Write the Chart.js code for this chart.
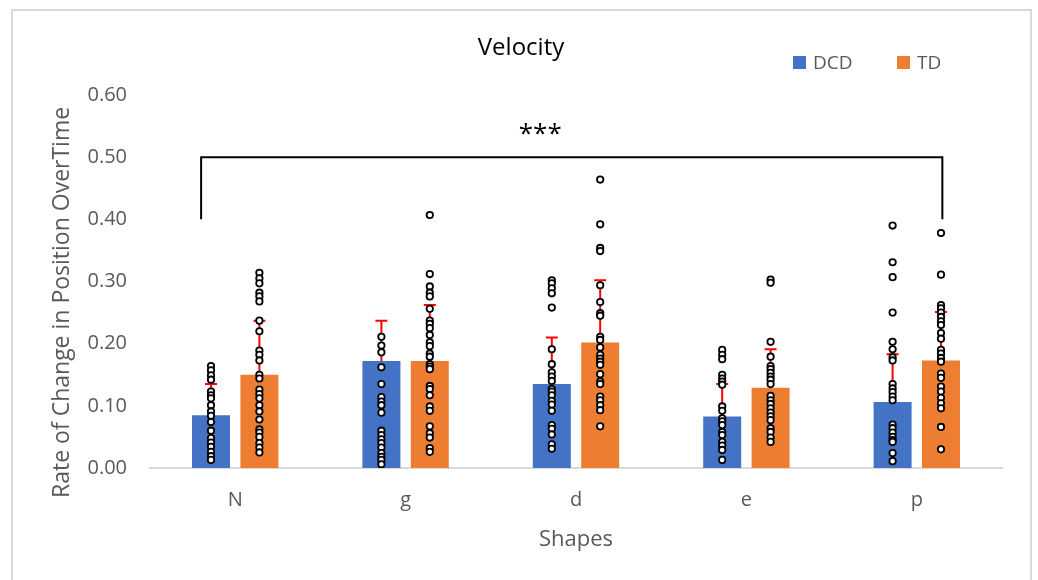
<!DOCTYPE html>
<html>
<head>
<meta charset="utf-8">
<title>Velocity</title>
<script src="https://cdn.jsdelivr.net/npm/chart.js@4.4.1/dist/chart.umd.min.js"></script>
<style>
  html, body { margin: 0; padding: 0; background: #fff; }
  #wrap { width: 1038px; height: 580px; }
</style>
</head>
<body>
<div id="wrap"><canvas id="velocityChart" width="1038" height="580"></canvas></div>
<script>
// ---- data ----
const shapes = ["N", "g", "d", "e", "p"];
const seriesNames = ["DCD", "TD"];

const dcdMeans = [0.085, 0.172, 0.135, 0.083, 0.106];
const tdMeans  = [0.150, 0.172, 0.202, 0.129, 0.173];
// upper error (SD) above each mean
const dcdSD = [0.050, 0.065, 0.075, 0.052, 0.077];
const tdSD  = [0.087, 0.090, 0.100, 0.062, 0.078];

// individual participants, one list per shape
const dcdPoints = [
  [0.164, 0.157, 0.149, 0.142, 0.123, 0.117, 0.112, 0.101, 0.091, 0.084, 0.074, 0.060, 0.048, 0.041, 0.034, 0.026, 0.019, 0.013],
  [0.211, 0.197, 0.186, 0.162, 0.135, 0.114, 0.107, 0.101, 0.089, 0.060, 0.053, 0.046, 0.040, 0.033, 0.024, 0.018, 0.013, 0.006],
  [0.302, 0.297, 0.289, 0.281, 0.258, 0.191, 0.167, 0.154, 0.147, 0.140, 0.127, 0.123, 0.117, 0.108, 0.102, 0.092, 0.069, 0.063, 0.054, 0.038, 0.031],
  [0.190, 0.182, 0.175, 0.150, 0.144, 0.139, 0.134, 0.099, 0.092, 0.080, 0.075, 0.069, 0.058, 0.053, 0.042, 0.036, 0.029, 0.013],
  [0.390, 0.331, 0.307, 0.250, 0.203, 0.191, 0.178, 0.173, 0.135, 0.128, 0.122, 0.115, 0.109, 0.070, 0.064, 0.057, 0.050, 0.045, 0.042, 0.024, 0.011]
];
const tdPoints = [
  [0.314, 0.305, 0.297, 0.282, 0.276, 0.268, 0.237, 0.220, 0.189, 0.182, 0.173, 0.150, 0.144, 0.126, 0.119, 0.112, 0.101, 0.091, 0.078, 0.062, 0.057, 0.050, 0.040, 0.033, 0.025],
  [0.407, 0.312, 0.292, 0.282, 0.276, 0.256, 0.237, 0.232, 0.225, 0.214, 0.202, 0.196, 0.184, 0.179, 0.167, 0.163, 0.159, 0.132, 0.127, 0.117, 0.099, 0.092, 0.067, 0.056, 0.049, 0.032, 0.026],
  [0.464, 0.392, 0.354, 0.349, 0.294, 0.267, 0.249, 0.245, 0.211, 0.206, 0.194, 0.182, 0.176, 0.171, 0.166, 0.151, 0.139, 0.135, 0.115, 0.109, 0.101, 0.093, 0.067],
  [0.303, 0.298, 0.203, 0.179, 0.164, 0.159, 0.153, 0.147, 0.142, 0.135, 0.116, 0.109, 0.103, 0.096, 0.089, 0.083, 0.077, 0.064, 0.058, 0.049, 0.042],
  [0.378, 0.311, 0.262, 0.257, 0.250, 0.243, 0.236, 0.230, 0.217, 0.208, 0.190, 0.184, 0.177, 0.171, 0.152, 0.145, 0.131, 0.123, 0.113, 0.104, 0.096, 0.066, 0.030]
];

const yTicks = [0, 0.1, 0.2, 0.3, 0.4, 0.5, 0.6];

// significance bracket (x in category units, y in axis units)
const bracketX = [-0.2, 4.15];
const bracketY = [0.40, 0.50];
const starsLabel = "***";
const starsPos = { x: 1.79, y: 0.525 };

// ---- look ----
const BLUE = "#4472C4";
const ORANGE = "#ED7D31";
const GREY_TEXT = "#595959";
const CAT_PCT = 0.568;
const BAR_PCT = 0.785;

Chart.defaults.font.family = "'Open Sans', sans-serif";

// x is a linear axis in category units (0 = first shape) so dots can sit on the bars
function barsFor(means) {
  return means.map((v, i) => ({ x: i, y: v }));
}
function dotsFor(points, side) {
  const shift = side * CAT_PCT / 4;
  return points.flatMap((list, i) => list.map(v => ({ x: i + shift, y: v })));
}

// error bars, legend, title, bracket, frame
const extrasPlugin = {
  id: "extras",
  afterDatasetDraw(chart, args) {
    const ds = chart.data.datasets[args.index];
    if (!ds.sd) return;
    const ctx = chart.ctx;
    const y = chart.scales.y;
    ctx.save();
    ctx.strokeStyle = "#FF0000";
    ctx.lineWidth = 2;
    args.meta.data.forEach((bar, i) => {
      const top = y.getPixelForValue(ds.means[i] + ds.sd[i]);
      ctx.beginPath();
      ctx.moveTo(bar.x, bar.y);
      ctx.lineTo(bar.x, top);
      ctx.moveTo(bar.x - 6, top);
      ctx.lineTo(bar.x + 6, top);
      ctx.stroke();
    });
    ctx.restore();
  },
  afterDraw(chart) {
    const ctx = chart.ctx;
    const xs = chart.scales.x;
    const ys = chart.scales.y;
    ctx.save();

    // outer frame
    ctx.strokeStyle = "#D9D9D9";
    ctx.lineWidth = 2;
    ctx.strokeRect(12, 10, 1019, 600);

    // title
    ctx.fillStyle = "#000";
    ctx.font = "24px 'Open Sans', sans-serif";
    ctx.textAlign = "center";
    ctx.textBaseline = "alphabetic";
    ctx.fillText("Velocity", 521, 55);

    // legend
    ctx.font = "19px 'Open Sans', sans-serif";
    ctx.textAlign = "left";
    const legendX = [793, 897];
    chart.data.datasets.filter(d => d.type === "bar").forEach((d, i) => {
      ctx.fillStyle = d.backgroundColor;
      ctx.fillRect(legendX[i], 56, 13, 13);
      ctx.fillStyle = GREY_TEXT;
      ctx.fillText(d.label, legendX[i] + 20, 69);
    });

    // bracket
    const x0 = xs.getPixelForValue(bracketX[0]);
    const x1 = xs.getPixelForValue(bracketX[1]);
    const yLow = ys.getPixelForValue(bracketY[0]);
    const yHigh = ys.getPixelForValue(bracketY[1]);
    ctx.strokeStyle = "#000";
    ctx.lineWidth = 2;
    ctx.beginPath();
    ctx.moveTo(x0, yLow);
    ctx.lineTo(x0, yHigh);
    ctx.lineTo(x1, yHigh);
    ctx.lineTo(x1, yLow);
    ctx.stroke();

    ctx.fillStyle = "#000";
    ctx.font = "26px 'Open Sans', sans-serif";
    ctx.textAlign = "center";
    ctx.fillText(starsLabel, xs.getPixelForValue(starsPos.x), ys.getPixelForValue(starsPos.y));
    ctx.restore();
  }
};

const dotStyle = {
  type: "scatter",
  pointRadius: 3.2,
  pointHoverRadius: 3.2,
  borderWidth: 1.8,
  borderColor: "#000",
  backgroundColor: "#fff",
  order: 1
};

new Chart(document.getElementById("velocityChart"), {
  type: "bar",
  data: {
    datasets: [
      {
        type: "bar", label: seriesNames[0], data: barsFor(dcdMeans), means: dcdMeans, sd: dcdSD,
        backgroundColor: BLUE, categoryPercentage: CAT_PCT, barPercentage: BAR_PCT, order: 2
      },
      {
        type: "bar", label: seriesNames[1], data: barsFor(tdMeans), means: tdMeans, sd: tdSD,
        backgroundColor: ORANGE, categoryPercentage: CAT_PCT, barPercentage: BAR_PCT, order: 2
      },
      Object.assign({ label: seriesNames[0] + " points", data: dotsFor(dcdPoints, -1) }, dotStyle),
      Object.assign({ label: seriesNames[1] + " points", data: dotsFor(tdPoints, 1) }, dotStyle)
    ]
  },
  options: {
    responsive: false,
    animation: false,
    layout: { padding: { top: 95, right: 36, bottom: 0, left: 0 } },
    plugins: {
      legend: { display: false },
      title: { display: false },
      tooltip: { enabled: false }
    },
    scales: {
      x: {
        type: "linear",
        min: -0.5,
        max: shapes.length - 0.5,
        offset: false,
        grid: { display: false, drawTicks: false, offset: false },
        border: { display: true, color: "#D9D9D9", width: 2 },
        afterBuildTicks(scale) { scale.ticks = shapes.map((s, i) => ({ value: i })); },
        ticks: {
          color: GREY_TEXT, font: { size: 20 }, padding: 20,
          callback: v => shapes[v]
        },
        title: {
          display: true, text: "Shapes", color: GREY_TEXT,
          font: { size: 22 }, padding: { top: 0, bottom: 27 }
        },
        afterFit(scale) { scale.height = 112; }
      },
      y: {
        min: yTicks[0],
        max: yTicks[yTicks.length - 1],
        grid: { display: false, drawTicks: false },
        border: { display: false },
        afterBuildTicks(scale) { scale.ticks = yTicks.map(v => ({ value: v })); },
        ticks: {
          color: GREY_TEXT,
          font: { size: 20 },
          padding: 23,
          callback: v => v.toFixed(2)
        },
        title: {
          display: true,
          text: "Rate of Change in Position OverTime       ",
          color: GREY_TEXT,
          font: { size: 23 },
          padding: { top: 49, bottom: 0 }
        },
        afterFit(scale) { scale.width = 150; }
      }
    }
  },
  plugins: [extrasPlugin]
});
</script>
</body>
</html>
